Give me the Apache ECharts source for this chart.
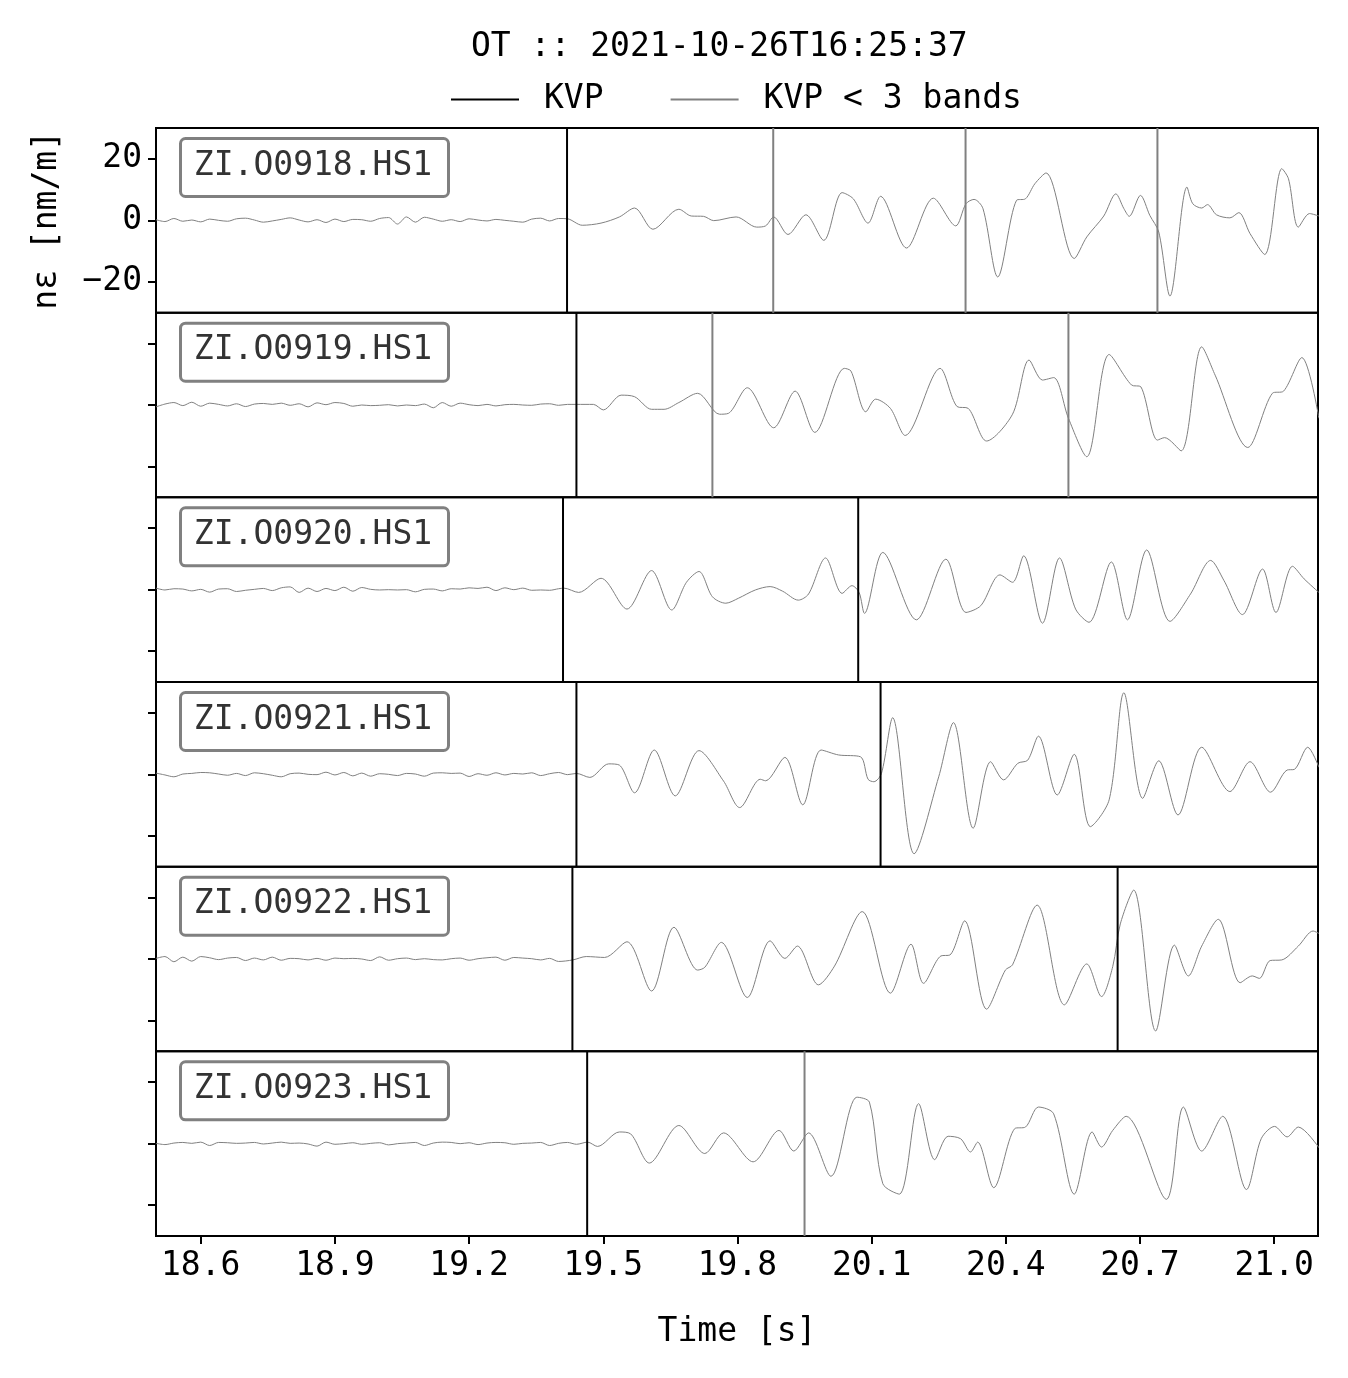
<!DOCTYPE html>
<html><head><meta charset="utf-8">
<script src="https://cdn.jsdelivr.net/npm/echarts@6/dist/echarts.min.js"></script>
<style>html,body{margin:0;padding:0;background:#fff}#c{width:1348px;height:1378px}</style>
</head><body><div id="c"></div>
<script>
const stations = ["ZI.O0918.HS1","ZI.O0919.HS1","ZI.O0920.HS1","ZI.O0921.HS1","ZI.O0922.HS1","ZI.O0923.HS1"];
const xTicks = [18.6,18.9,19.2,19.5,19.8,20.1,20.4,20.7,21.0];
const yTicks = [-20,0,20];
const noiseStart = 18.5, noiseStep = 0.02;
const noise1 = [0.2,-0.4,0.6,-0.3,0.1,-0.5,0.4,0.0,-0.3,0.5,0.7,0.1,-0.6,-0.2,0.3,0.8,0.1,-0.5,0.2,-0.7,0.4,-0.4,0.3,0.2,-0.3,0.6,0.9,-1.2,1.1,-0.6,1.0,0.4,-0.3,0.2,-0.4,0.5,0.1,-0.2,0.3,0.0,-0.3,-0.6,0.4,0.7,-0.2,0.6];
const noise2 = [-0.6,0.3,0.8,-0.2,0.9,-0.4,0.6,0.2,-0.3,0.4,-0.5,0.3,0.5,0.2,0.6,-0.1,0.4,-0.6,0.7,0.1,0.8,0.5,-0.4,0.0,-0.2,-0.1,0.1,-0.3,0.0,-0.2,0.3,-0.9,0.8,-0.4,0.6,0.1,-0.2,0.2,-0.3,0.1,0.2,0.0,-0.1,0.3,0.4,-0.1,0.2];
const noise3 = [0.5,-0.1,0.3,0.2,-0.4,0.1,-0.8,0.2,0.3,-0.6,-0.2,0.1,0.4,-0.3,0.6,0.9,-0.9,0.5,-0.6,0.4,-0.3,0.8,-0.5,0.7,0.1,-0.1,0.0,-0.1,0.0,-0.7,0.1,0.2,-0.4,0.3,0.2,0.6,0.4,0.8,-0.3,0.6,0.0,0.5,-0.2,-0.1,-0.2,0.3];
const noise4 = [0.4,-0.2,-0.8,0.1,0.3,0.6,0.5,0.1,-0.3,0.3,-0.4,0.5,0.2,-0.3,-0.8,0.2,0.4,0.0,-0.1,0.7,-0.2,0.6,-0.5,0.4,-0.6,0.2,0.0,-0.4,0.3,0.1,-0.6,0.4,0.5,0.3,0.4,-0.7,0.2,-0.3,0.5,-0.2,0.3,0.1,0.5,-0.4,0.2,0.6,-0.1];
const noise5 = [0.2,0.8,-0.9,0.6,-0.7,0.8,0.4,-0.2,0.3,0.5,-0.5,0.3,-0.3,0.6,-0.4,0.2,0.1,-0.3,0.2,-0.4,0.3,0.1,0.2,0.0,-0.5,0.7,-0.4,0.1,0.3,-0.2,0.1,-0.2,-0.3,0.1,0.3,-0.4,0.1,0.4,0.6,-0.4,0.5,0.3,0.1,-0.3,0.2,-0.8];
const noise6 = [0.1,-0.3,0.2,0.4,0.1,0.5,-0.6,0.4,0.3,0.1,0.2,0.4,-0.1,0.2,0.5,0.1,0.2,-0.1,-0.8,0.5,-0.2,0.0,0.3,-0.2,0.1,0.3,-0.4,0.0,0.2,0.4,-0.6,0.2,0.5,0.4,0.0,0.3,-0.3,0.2,0.4,0.3,-0.2,0.1,0.2,0.4,-0.6,0.1,0.4,-0.2];
const sig1 = [[19.420,0.5],[19.453,-1.6],[19.495,-0.9],[19.536,1.1],[19.570,4.0],[19.611,-2.9],[19.669,3.6],[19.697,1.4],[19.724,1.3],[19.747,-0.1],[19.797,1.1],[19.843,-2.2],[19.863,-1.8],[19.881,1.1],[19.913,-4.6],[19.953,1.8],[19.993,-6.5],[20.034,9.0],[20.059,7.0],[20.092,-0.9],[20.120,7.8],[20.178,-9.0],[20.238,7.2],[20.288,-1.8],[20.311,5.4],[20.329,6.8],[20.349,3.8],[20.382,-18.4],[20.424,6.5],[20.444,7.0],[20.465,11.9],[20.490,15.4],[20.553,-12.4],[20.581,-5.4],[20.619,1.4],[20.646,8.6],[20.664,3.8],[20.676,1.3],[20.701,8.1],[20.722,1.6],[20.742,-3.8],[20.767,-24.6],[20.805,10.8],[20.818,5.4],[20.838,4.0],[20.851,5.1],[20.871,1.8],[20.901,0.8],[20.921,2.5],[20.946,-4.3],[20.979,-11.1],[21.017,16.8],[21.032,13.5],[21.054,-2.2],[21.079,2.2],[21.100,1.4]];
const sig2 = [[19.440,0.2],[19.478,0.2],[19.500,-1.6],[19.540,3.2],[19.570,2.7],[19.608,-1.4],[19.636,-1.4],[19.669,0.8],[19.711,3.8],[19.760,-3.0],[19.780,-2.7],[19.822,5.6],[19.881,-7.4],[19.929,4.5],[19.973,-8.9],[20.039,11.9],[20.054,11.0],[20.087,-2.2],[20.109,1.9],[20.142,-1.1],[20.175,-9.9],[20.253,11.9],[20.291,-0.5],[20.316,-1.1],[20.357,-11.7],[20.415,-3.0],[20.452,14.6],[20.482,8.1],[20.507,8.9],[20.540,-4.3],[20.581,-16.8],[20.631,16.4],[20.681,6.5],[20.702,5.9],[20.739,-11.4],[20.755,-10.6],[20.792,-14.9],[20.838,18.9],[20.868,9.7],[20.941,-13.8],[20.996,3.8],[21.021,4.5],[21.062,15.4],[21.100,-4.3]];
const sig3 = [[19.412,0.5],[19.445,-0.9],[19.495,3.7],[19.553,-6.3],[19.608,6.2],[19.653,-6.6],[19.686,2.4],[19.714,5.9],[19.744,-2.3],[19.774,-4.4],[19.802,-2.8],[19.840,-0.1],[19.873,1.0],[19.901,-0.5],[19.936,-3.4],[19.959,-1.4],[19.997,10.3],[20.034,-1.2],[20.056,1.3],[20.072,-0.9],[20.084,-7.7],[20.125,12.1],[20.200,-9.8],[20.266,9.9],[20.311,-7.4],[20.344,-5.2],[20.387,4.8],[20.415,2.4],[20.440,11.0],[20.482,-10.9],[20.520,10.3],[20.556,-6.3],[20.586,-10.6],[20.636,9.0],[20.672,-9.8],[20.715,12.9],[20.767,-10.3],[20.813,-1.4],[20.858,9.5],[20.888,2.9],[20.929,-8.1],[20.974,6.7],[21.004,-7.4],[21.041,7.6],[21.067,3.5],[21.100,-0.9]];
const sig4 = [[19.440,0.3],[19.470,-1.0],[19.512,3.4],[19.536,3.0],[19.570,-6.0],[19.614,7.9],[19.661,-7.0],[19.714,7.7],[19.769,-2.2],[19.805,-10.8],[19.851,-1.6],[19.863,-2.1],[19.906,5.5],[19.946,-9.9],[19.987,7.9],[20.026,6.3],[20.075,5.7],[20.092,-1.6],[20.105,-2.4],[20.122,0.3],[20.147,18.4],[20.195,-25.8],[20.250,-0.8],[20.283,16.8],[20.327,-17.5],[20.366,4.1],[20.395,-1.8],[20.427,3.6],[20.449,4.6],[20.473,12.4],[20.515,-6.7],[20.553,6.5],[20.589,-17.0],[20.631,-8.3],[20.664,26.5],[20.706,-7.8],[20.742,4.4],[20.785,-13.2],[20.838,8.8],[20.901,-5.6],[20.946,4.1],[20.992,-5.8],[21.029,1.4],[21.045,1.6],[21.075,8.8],[21.100,2.3]];
const sig5 = [[19.432,-0.3],[19.462,0.8],[19.503,0.5],[19.553,5.6],[19.608,-10.4],[19.658,10.3],[19.711,-3.6],[19.727,-2.7],[19.764,5.4],[19.822,-12.5],[19.873,5.9],[19.906,0.2],[19.934,4.2],[19.981,-8.4],[20.017,-2.3],[20.079,15.4],[20.142,-11.1],[20.188,4.8],[20.216,-7.9],[20.255,1.0],[20.275,1.3],[20.308,12.4],[20.357,-16.3],[20.399,-3.6],[20.415,-1.9],[20.470,17.5],[20.531,-14.9],[20.581,-1.6],[20.614,-12.2],[20.639,-2.5],[20.656,11.4],[20.686,22.4],[20.735,-23.4],[20.777,4.5],[20.808,-5.5],[20.838,4.2],[20.875,12.9],[20.924,-7.7],[20.951,-5.5],[20.967,-6.3],[20.991,-0.5],[21.017,-0.3],[21.054,4.2],[21.087,9.1],[21.100,8.3]];
const sig6 = [[19.465,0.5],[19.487,-0.9],[19.536,3.8],[19.561,3.2],[19.603,-6.3],[19.669,5.9],[19.727,-3.2],[19.769,3.5],[19.835,-5.9],[19.893,4.3],[19.926,-2.4],[19.959,3.5],[20.009,-10.6],[20.067,15.1],[20.095,13.5],[20.125,-13.0],[20.162,-16.4],[20.205,13.0],[20.241,-5.2],[20.271,2.4],[20.299,1.6],[20.321,-2.7],[20.337,0.5],[20.373,-14.3],[20.420,4.9],[20.444,5.4],[20.473,11.9],[20.507,9.7],[20.553,-16.4],[20.593,3.8],[20.614,-1.1],[20.639,4.3],[20.669,8.9],[20.759,-18.1],[20.797,11.9],[20.838,-2.4],[20.885,8.9],[20.938,-14.9],[20.971,1.6],[21.001,5.6],[21.029,2.2],[21.054,5.4],[21.100,-1.3]];
const picksKVP = [[19.419],[19.440],[19.410,20.070],[19.440,20.120],[19.431,20.650],[19.464]];
const picksBands = [[19.880,20.310,20.739],[19.744,20.540],[],[],[],[19.950]];

const noises=[noise1,noise2,noise3,noise4,noise5,noise6];
const sigs=[sig1,sig2,sig3,sig4,sig5,sig6];
const FONT='DejaVu Sans Mono', FS=33;
const top0=128, ph=(1236-128)/6, L=156, R=30;
const grids=[],xAxes=[],yAxes=[],series=[],graphics=[];
const fmt=v=>String(v).replace('-','\u2212');
for(let i=0;i<6;i++){
  const last=i===5;
  grids.push({left:L,right:R,top:top0+i*ph,height:ph,show:true,borderColor:'#000',borderWidth:2,backgroundColor:'transparent'});
  xAxes.push({gridIndex:i,type:'value',min:18.5,max:21.098,
    axisLine:{show:false,onZero:false},splitLine:{show:false},
    axisTick:{show:last,customValues:xTicks,length:8,lineStyle:{color:'#000',width:2}},
    axisLabel:{show:last,customValues:xTicks,formatter:v=>v.toFixed(1),fontFamily:FONT,fontSize:FS,color:'#000',margin:14},
    name:last?'Time [s]':'',nameLocation:'middle',nameGap:80,nameTextStyle:{fontFamily:FONT,fontSize:FS,color:'#000'}});
  yAxes.push({gridIndex:i,type:'value',min:-30,max:30,
    axisLine:{show:false,onZero:false},splitLine:{show:false},
    axisTick:{show:true,customValues:yTicks,length:8,lineStyle:{color:'#000',width:2}},
    axisLabel:{show:i===0,customValues:yTicks,formatter:fmt,fontFamily:FONT,fontSize:FS,color:'#000',margin:14},
    name:i===0?'n\u03b5 [nm/m]':'',nameLocation:'middle',nameGap:92,nameRotate:90,nameTextStyle:{fontFamily:FONT,fontSize:FS,color:'#000'}});
  const pick=picksKVP[i][0];
  const data=[];
  noises[i].forEach((v,k)=>{const t=noiseStart+k*noiseStep; if(t<pick) data.push([t,v]);});
  sigs[i].forEach(p=>data.push(p));
  series.push({type:'line',xAxisIndex:i,yAxisIndex:i,data,showSymbol:false,symbol:'none',silent:true,smooth:0.3,
    lineStyle:{color:'#808080',width:1},z:2});
  picksKVP[i].forEach(t=>series.push({name:'KVP',type:'line',xAxisIndex:i,yAxisIndex:i,data:[[t,-30],[t,30]],symbol:'none',lineStyle:{color:'#000',width:2},itemStyle:{color:'#000'},z:3}));
  picksBands[i].forEach(t=>series.push({name:'KVP < 3 bands',type:'line',xAxisIndex:i,yAxisIndex:i,data:[[t,-30],[t,30]],symbol:'none',lineStyle:{color:'#808080',width:2},itemStyle:{color:'#808080'},z:3}));
  const gy=top0+i*ph+9;
  graphics.push({type:'rect',left:179,top:gy,shape:{width:268,height:58,r:5},style:{fill:'#fff',stroke:'#808080',lineWidth:3},z:10});
  graphics.push({type:'text',x:313,y:gy+29,style:{text:stations[i],fontFamily:FONT,fontSize:FS,fill:'#333',align:'center',verticalAlign:'middle'},z:11});
}
const chart=echarts.init(document.getElementById('c'));
chart.setOption({
  animation:false,backgroundColor:'#fff',
  title:{text:'OT :: 2021-10-26T16:25:37',left:466,top:26,textStyle:{fontFamily:FONT,fontSize:33,fontWeight:'normal',color:'#000'}},
  legend:{data:[{name:'KVP',itemStyle:{color:'#000'}},{name:'KVP < 3 bands',itemStyle:{color:'#808080'}}],top:78,left:446,icon:'rect',itemWidth:68,itemHeight:2,itemGap:67,
    textStyle:{fontFamily:FONT,fontSize:33,color:'#000',padding:[0,0,0,20]}},
  grid:grids,xAxis:xAxes,yAxis:yAxes,series,graphic:graphics
});
</script></body></html>
